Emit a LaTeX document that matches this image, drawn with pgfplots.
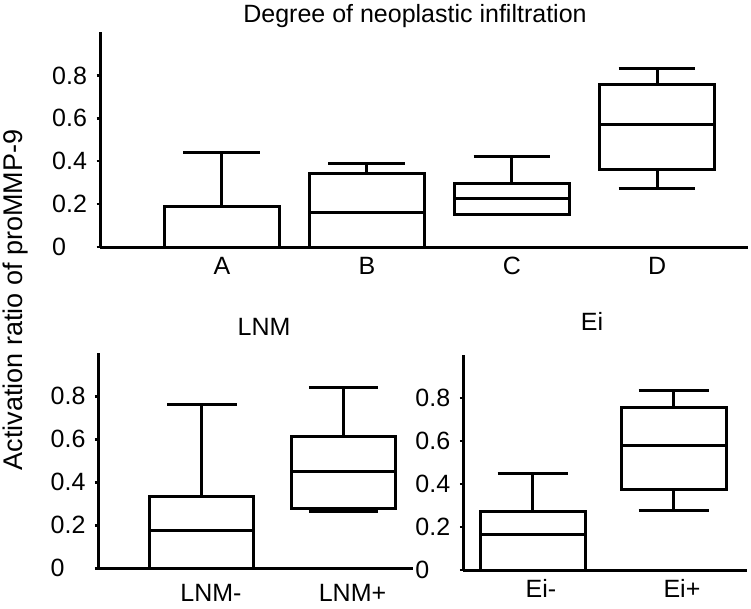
\documentclass[border=0pt]{standalone}
\usepackage{fontspec}
\setmainfont{Liberation Sans}
\usepackage{pgfplots}
\pgfplotsset{compat=1.18}
\usepgfplotslibrary{statistics}
\newcommand{\tl}[1]{\makebox[34.8pt][l]{#1}}
\pgfplotsset{
  panel/.style={
    scale only axis,
    anchor=south west,
    axis x line=bottom, axis y line=left,
    axis line style={-, line width=3pt, black},
    ymin=0, ymax=1,
    ytick={0,0.2,0.4,0.6,0.8},
    yticklabels={\tl{0},\tl{0.2},\tl{0.4},\tl{0.6},\tl{0.8}},
    tick align=outside,
    major tick length=3.5pt,
    ytick style={line width=2.5pt, black},
    xtick style={draw=none},
    ticklabel style={font=\fontsize{25}{25}\selectfont},
    yticklabel style={xshift=-6pt},
    /pgf/number format/assume math mode=true,
    boxplot/draw direction=y,
    clip=false,
  },
  bx/.style={draw=black, line width=3pt, solid, mark=none},
}
\begin{document}
\begin{tikzpicture}[x=1pt,y=1pt]
\path[use as bounding box] (0,0) rectangle (751,-609);

% top panel
\begin{axis}[panel, at={(100pt,-247pt)}, width=647.7pt, height=214.5pt,
  xmin=-0.84, xmax=3.625, xtick={0,1,2,3}, xticklabels={A,B,C,D},
  xticklabel style={yshift=-3pt}]
\addplot[bx, boxplot prepared={lower whisker=0, lower quartile=0, median=0,
  upper quartile=0.19, upper whisker=0.44, draw position=0, box extend=0.79, whisker extend=0.53}] coordinates {};
\addplot[bx, boxplot prepared={lower whisker=0, lower quartile=0, median=0.161,
  upper quartile=0.341, upper whisker=0.39, draw position=1, box extend=0.79, whisker extend=0.53}] coordinates {};
\addplot[bx, boxplot prepared={lower whisker=0.15, lower quartile=0.15, median=0.225,
  upper quartile=0.295, upper whisker=0.423, draw position=2, box extend=0.79, whisker extend=0.53}] coordinates {};
\addplot[bx, boxplot prepared={lower whisker=0.271, lower quartile=0.361, median=0.571,
  upper quartile=0.757, upper whisker=0.831, draw position=3, box extend=0.79, whisker extend=0.53}] coordinates {};
\end{axis}

% bottom left panel
\begin{axis}[panel, at={(98.5pt,-568.3pt)}, width=314.5pt, height=215pt,
  xmin=-0.731, xmax=1.491, xtick={0,1}, xticklabels={LNM-,LNM+},
  xticklabel style={xshift=9pt, yshift=-9pt}]
\addplot[bx, boxplot prepared={lower whisker=0, lower quartile=0, median=0.178,
  upper quartile=0.332, upper whisker=0.763, draw position=0, box extend=0.735, whisker extend=0.49}] coordinates {};
\addplot[bx, boxplot prepared={lower whisker=0.265, lower quartile=0.279, median=0.448,
  upper quartile=0.614, upper whisker=0.84, draw position=1, box extend=0.735, whisker extend=0.49}] coordinates {};
\end{axis}

% bottom right panel
\begin{axis}[panel, at={(463.3pt,-570pt)}, width=283.4pt, height=215pt,
  xmin=-0.494, xmax=1.516, xtick={0,1}, xticklabels={Ei-,Ei+},
  xticklabel style={xshift=8pt, yshift=-2pt}]
\addplot[bx, boxplot prepared={lower whisker=0, lower quartile=0, median=0.163,
  upper quartile=0.271, upper whisker=0.45, draw position=0, box extend=0.74, whisker extend=0.5}] coordinates {};
\addplot[bx, boxplot prepared={lower whisker=0.276, lower quartile=0.375, median=0.578,
  upper quartile=0.758, upper whisker=0.837, draw position=1, box extend=0.74, whisker extend=0.5}] coordinates {};
\end{axis}

\node[font=\fontsize{25}{25}\selectfont] at (415,-16) {Degree of neoplastic infiltration};
\node[font=\fontsize{25}{25}\selectfont] at (264,-326.5) {LNM};
\node[font=\fontsize{25}{25}\selectfont] at (592,-321) {Ei};
\node[font=\fontsize{27}{27}\selectfont, rotate=90] at (16,-300) {Activation ratio of proMMP-9};
\end{tikzpicture}
\end{document}
